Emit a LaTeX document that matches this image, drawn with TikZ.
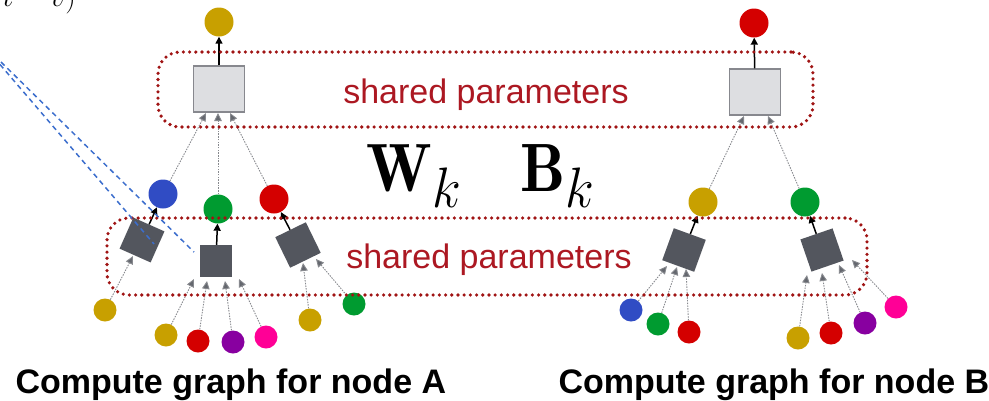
\documentclass[tikz,border=0pt]{standalone}
\usepackage{fontspec}
\newfontfamily\labelfont{Liberation Sans}
\usetikzlibrary{arrows.meta}

\definecolor{cgold}{RGB}{200,160,0}
\definecolor{cblue}{RGB}{48,76,196}
\definecolor{cgreen}{RGB}{0,155,48}
\definecolor{cred}{RGB}{212,0,0}
\definecolor{cpurple}{RGB}{136,0,160}
\definecolor{cpink}{RGB}{255,0,150}
\definecolor{sqdark}{RGB}{83,86,94}
\definecolor{sqlight}{RGB}{221,222,225}
\definecolor{sqedge}{RGB}{135,136,142}
\definecolor{dotred}{RGB}{160,20,20}
\definecolor{labred}{RGB}{172,24,34}
\definecolor{feedgray}{RGB}{135,137,142}
\definecolor{tipgray}{RGB}{100,103,110}
\definecolor{skipblue}{RGB}{60,110,205}

\begin{document}
\begin{tikzpicture}[x=1pt,y=-1pt,
  leaf/.style={circle, inner sep=0pt, minimum size=23pt},
  hub/.style={circle, inner sep=0pt, minimum size=29pt},
  agg/.style={rectangle, inner sep=0pt, minimum size=34pt, fill=sqdark},
  upd/.style={rectangle, inner sep=0pt, minimum width=51pt, minimum height=46pt,
    fill=sqlight, draw=sqedge, line width=1.4pt},
  feed/.style={draw=feedgray, line width=0.9pt, dash pattern=on 1.5pt off 1.2pt,
    -{Triangle[length=8pt,width=7.5pt,fill=tipgray]}},
  emit/.style={draw=black, line width=1.5pt, -{Triangle[length=7pt,width=7pt]}},
  sharedbox/.style={draw=dotred, line width=3.6pt, line cap=round,
    dash pattern=on 0pt off 6.2pt, rounded corners=22pt, inner sep=0pt},
  sharedtext/.style={text=labred, font=\labelfont\fontsize{34}{40}\selectfont, anchor=base},
  caption/.style={font=\labelfont\bfseries\fontsize{34}{40}\selectfont, anchor=base west},
  weight/.style={font=\Huge, anchor=base west, xscale=2.55, yscale=2.75, inner sep=0pt},
  skip/.style={draw=skipblue, line width=1.5pt, dash pattern=on 5pt off 4pt}]
\useasboundingbox (0,0) rectangle (989,400);

% formula running off the top edge
\node[anchor=base west, inner sep=0pt, font=\Huge, scale=1.2] (frag) at (3,6) {$t-v)$};

% ---------- tree for node A ----------
\node[hub, fill=cgold] (rootA) at (219,22) {};
\node[upd] (updA) at (219,89) {};
\node[hub, fill=cblue] (hA1) at (163,194) {};
\node[hub, fill=cgreen] (hA2) at (218,209) {};
\node[hub, fill=cred] (hA3) at (274,199) {};
\node[agg, rotate=-24] (gA1) at (142,240) {};
\node[agg, minimum size=32pt] (gA2) at (216,261) {};
\node[agg, rotate=26] (gA3) at (298,245) {};
\node[leaf, fill=cgold] (lA1) at (105,310) {};
\node[leaf, fill=cgold] (lA2) at (166,335) {};
\node[leaf, fill=cred] (lA3) at (198,341) {};
\node[leaf, fill=cpurple] (lA4) at (233,342) {};
\node[leaf, fill=cpink] (lA5) at (266,337) {};
\node[leaf, fill=cgold] (lA6) at (310,320) {};
\node[leaf, fill=cgreen] (lA7) at (354,304) {};

\coordinate (tA1) at (206,113);
\coordinate (tA2) at (218,113);
\coordinate (tA3) at (230,113);
\coordinate (sA1) at (133,256);
\coordinate (sA2) at (194,279);
\coordinate (sA3) at (207,281);
\coordinate (sA4) at (225,281);
\coordinate (sA5) at (239,279);
\coordinate (sA6) at (303,263);
\coordinate (sA7) at (316,259);

\draw[emit] (updA) -- (rootA);
\draw[feed] (hA1) -- (tA1);
\draw[feed] (hA2) -- (tA2);
\draw[feed] (hA3) -- (tA3);
\draw[emit] (gA1) -- (hA1);
\draw[emit] (gA2) -- (hA2);
\draw[emit] (gA3) -- (hA3);
\draw[feed] (lA1) -- (sA1);
\draw[feed] (lA2) -- (sA2);
\draw[feed] (lA3) -- (sA3);
\draw[feed] (lA4) -- (sA4);
\draw[feed] (lA5) -- (sA5);
\draw[feed] (lA6) -- (sA6);
\draw[feed] (lA7) -- (sA7);

% ---------- tree for node B ----------
\node[hub, fill=cred] (rootB) at (754,23) {};
\node[upd] (updB) at (755,92) {};
\node[hub, fill=cgold] (hB1) at (703,202) {};
\node[hub, fill=cgreen] (hB2) at (805,202) {};
\node[agg, rotate=-20] (gB1) at (684,250) {};
\node[agg, rotate=19] (gB2) at (822,250) {};
\node[leaf, fill=cblue] (lB1) at (631,310) {};
\node[leaf, fill=cgreen] (lB2) at (658,324) {};
\node[leaf, fill=cred] (lB3) at (689,332) {};
\node[leaf, fill=cgold] (lB4) at (798,338) {};
\node[leaf, fill=cred] (lB5) at (831,333) {};
\node[leaf, fill=cpurple] (lB6) at (865,323) {};
\node[leaf, fill=cpink] (lB7) at (896,307) {};

\coordinate (tB1) at (744,116);
\coordinate (tB2) at (768,116);
\coordinate (sB1) at (667,266);
\coordinate (sB2) at (677,267);
\coordinate (sB3) at (686,269);
\coordinate (sB4) at (807,275);
\coordinate (sB5) at (822,273);
\coordinate (sB6) at (839,265);
\coordinate (sB7) at (852,260);

\draw[emit] (updB) -- (rootB);
\draw[feed] (hB1) -- (tB1);
\draw[feed] (hB2) -- (tB2);
\draw[emit] (gB1) -- (hB1);
\draw[emit] (gB2) -- (hB2);
\draw[feed] (lB1) -- (sB1);
\draw[feed] (lB2) -- (sB2);
\draw[feed] (lB3) -- (sB3);
\draw[feed] (lB4) -- (sB4);
\draw[feed] (lB5) -- (sB5);
\draw[feed] (lB6) -- (sB6);
\draw[feed] (lB7) -- (sB7);

% ---------- shared parameter groups ----------
\node[sharedbox, minimum width=655pt, minimum height=75pt] (upperbox) at (485.5,89.5) {};
\node[sharedbox, minimum width=760pt, minimum height=77pt] (lowerbox) at (487,256.5) {};
\node[sharedtext] (uppertext) at (486,103) {shared parameters};
\node[sharedtext] (lowertext) at (489,268) {shared parameters};

% weight matrices
\node[weight] (wk) at (366,191) {$\mathbf{W}_k$};
\node[weight] (bk) at (520,191) {$\mathbf{B}_k$};

% dashed guide lines entering from the upper left
\coordinate (skipL0) at (0,64.5);
\coordinate (skipL1) at (154,244);
\coordinate (skipR0) at (1,62);
\coordinate (skipR1) at (194,252);
\draw[skip] (skipL0) -- (skipL1);
\draw[skip] (skipR0) -- (skipR1);

% captions
\node[caption] (capA) at (12,393) {Compute graph for node A};
\node[caption] (capB) at (555,393) {Compute graph for node B};
\end{tikzpicture}
\end{document}
